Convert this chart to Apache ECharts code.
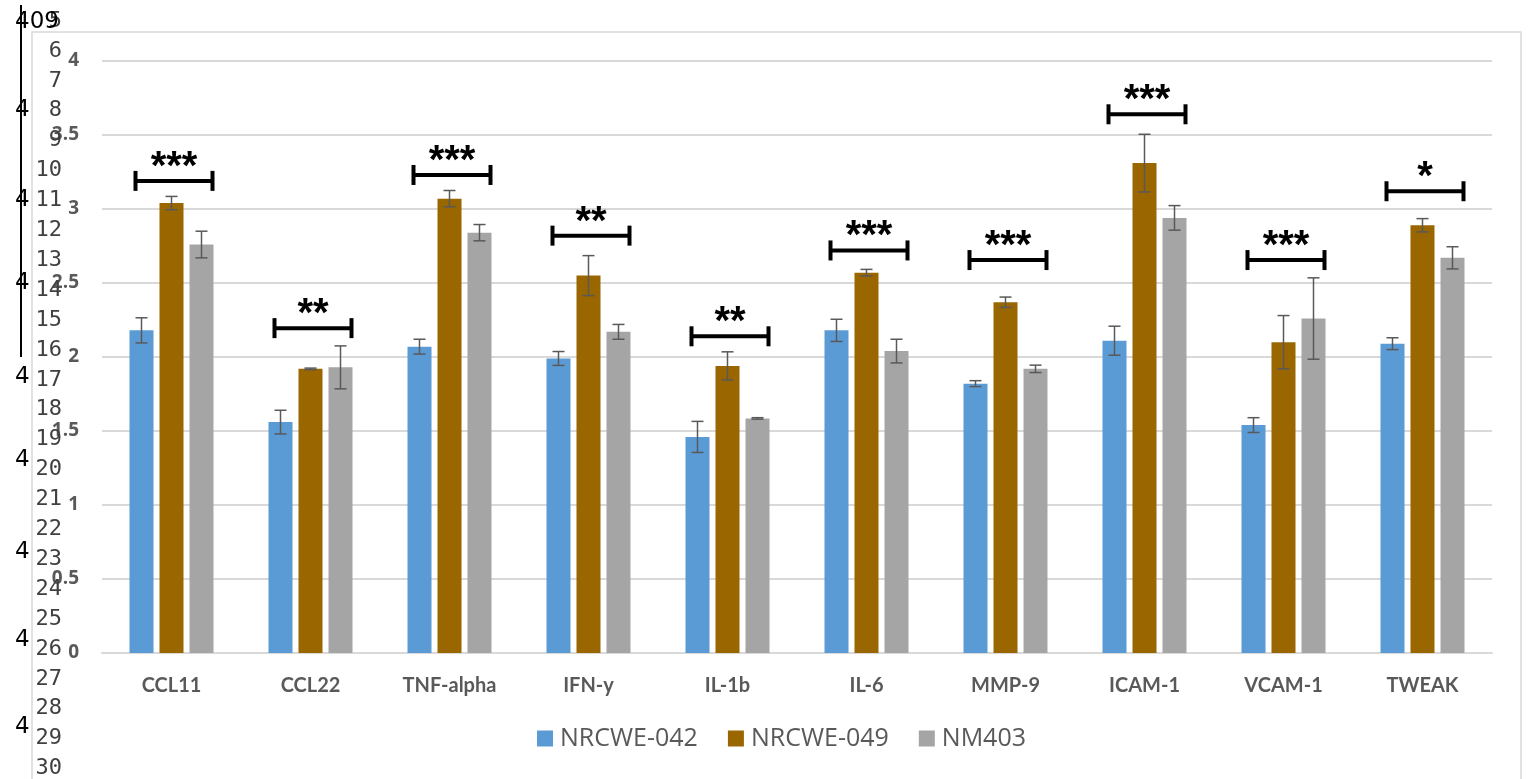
<!DOCTYPE html>
<html>
<head>
<meta charset="utf-8">
<script src="https://cdn.jsdelivr.net/npm/echarts@6/dist/echarts.min.js"></script>
<style>
html,body{margin:0;padding:0;background:#fff;}
#chart{width:1528px;height:779px;}
</style>
</head>
<body>
<div id="chart"></div>
<script>
const categories = ['CCL11','CCL22','TNF-alpha','IFN-y','IL-1b','IL-6','MMP-9','ICAM-1','VCAM-1','TWEAK'];
const seriesNames = ['NRCWE-042','NRCWE-049','NM403'];
const nrcwe042 = [2.18,1.56,2.07,1.99,1.46,2.18,1.82,2.11,1.54,2.09];
const nrcwe042Err = [0.085,0.08,0.05,0.047,0.105,0.075,0.02,0.098,0.05,0.04];
const nrcwe049 = [3.04,1.92,3.07,2.55,1.94,2.57,2.37,3.31,2.10,2.89];
const nrcwe049Err = [0.045,0.005,0.055,0.135,0.095,0.022,0.035,0.195,0.18,0.045];
const nm403 = [2.76,1.93,2.84,2.17,1.585,2.04,1.92,2.94,2.26,2.67];
const nm403Err = [0.09,0.145,0.055,0.05,0.005,0.08,0.025,0.083,0.275,0.075];
const sigLevel = [3.19,2.195,3.23,2.82,2.14,2.72,2.655,3.64,2.655,3.12];
const sigStars = ['***','**','***','**','**','***','***','***','***','*'];
const yMin = 0, yMax = 4, yInterval = 0.5;
const sideNumbers = ['5','6','7','8','9','10','11','12','13','14','15','16','17','18','19','20','21','22','23','24','25','26','27','28','29','30'];
const sideFours = ['409','4','4','4','4','4','4','4','4'];
const sideFourY = [22,110,200,283,377,460,552,640,727];

const colors = ['#5B9BD5','#996600','#A5A5A5'];
const chart = echarts.init(document.getElementById('chart'), null, {renderer:'canvas'});

function errorSeries(values, errs, offset) {
  return {
    type:'custom', silent:true, z:10,
    renderItem:function(params, api){
      const i = api.value(0), v = api.value(1), e = api.value(2);
      const top = api.coord([i, v + e]);
      const bot = api.coord([i, v - e]);
      const x = top[0] + offset;
      const st = {stroke:'#595959', lineWidth:1.5};
      return {type:'group', children:[
        {type:'line', shape:{x1:x,y1:top[1],x2:x,y2:bot[1]}, style:st},
        {type:'line', shape:{x1:x-6,y1:top[1],x2:x+6,y2:top[1]}, style:st},
        {type:'line', shape:{x1:x-6,y1:bot[1],x2:x+6,y2:bot[1]}, style:st}
      ]};
    },
    encode:{x:0,y:1},
    data: values.map((v,i)=>[i,v,errs[i]])
  };
}

const bracketSeries = {
  type:'custom', silent:true, z:12,
  renderItem:function(params, api){
    const p = api.coord([api.value(0), api.value(1)]);
    const xl = p[0] - 36, xr = p[0] + 41, y = p[1];
    const st = {stroke:'#000', lineWidth:4};
    return {type:'group', children:[
      {type:'line', shape:{x1:xl,y1:y,x2:xr,y2:y}, style:st},
      {type:'line', shape:{x1:xl,y1:y-10,x2:xl,y2:y+10}, style:st},
      {type:'line', shape:{x1:xr,y1:y-10,x2:xr,y2:y+10}, style:st},
      {type:'text', style:{text:sigStars[params.dataIndex], x:(xl+xr)/2, y:y-13,
        align:'center', verticalAlign:'middle',
        fontFamily:'Liberation Sans', fontWeight:'bold', fontSize:40, fill:'#000'}}
    ]};
  },
  encode:{x:0,y:1},
  data: sigLevel.map((v,i)=>[i,v])
};

const graphics = [
  {type:'rect', z:-10, shape:{x:32,y:32,width:1489,height:770}, style:{fill:'none', stroke:'#D9D9D9', lineWidth:1.5}},
  {type:'line', z:50, shape:{x1:21,y1:5,x2:21,y2:357}, style:{stroke:'#000', lineWidth:2}}
];
sideNumbers.forEach((t,k)=>{
  graphics.push({type:'text', z:50, style:{text:t, x:62, y:21 + k*29.9, align:'right', verticalAlign:'middle',
    fontFamily:'DejaVu Sans Mono', fontSize:22, fill:'#404040'}});
});
sideFours.forEach((t,k)=>{
  graphics.push({type:'text', z:51, style:{text:t, x:15, y:sideFourY[k], align:'left', verticalAlign:'middle',
    fontFamily:'DejaVu Sans', fontSize:23, fill:'#000'}});
});

const xRich = {a:{fontSize:20, fontWeight:'bold', color:'#595959', fontFamily:'Lato'}};
const yRich = {a:{fontSize:19, fontWeight:'bold', color:'#595959', fontFamily:'Open Sans'}};

chart.setOption({
  animation:false,
  backgroundColor:'#fff',
  color:colors,
  grid:{left:102, right:36, top:61, bottom:126, containLabel:false},
  legend:{
    data:seriesNames, top:726, left:537, padding:0, itemWidth:16, itemHeight:16, itemGap:30,
    icon:'rect',
    textStyle:{fontSize:25, color:'#595959', fontFamily:'Open Sans', padding:[0,0,0,2]}
  },
  xAxis:{
    type:'category', data:categories,
    axisTick:{show:false},
    axisLine:{lineStyle:{color:'#D9D9D9', width:2}},
    axisLabel:{interval:0, margin:23, fontWeight:'bold', fontSize:20, fontFamily:'Lato', color:'#595959',
      formatter:function(v){return '{a|' + v + '}';}, rich:xRich}
  },
  yAxis:{
    type:'value', min:yMin, max:yMax, interval:yInterval,
    axisLine:{show:false}, axisTick:{show:false},
    splitLine:{lineStyle:{color:'#D9D9D9', width:2}},
    axisLabel:{margin:23, fontWeight:'bold', fontSize:19, fontFamily:'Open Sans', color:'#595959',
      formatter:function(v){return '{a|' + v + '}';}, rich:yRich}
  },
  graphic:graphics,
  series:[
    {name:seriesNames[0], type:'bar', data:nrcwe042, barWidth:24, barGap:'25%', itemStyle:{color:colors[0]}},
    {name:seriesNames[1], type:'bar', data:nrcwe049, barWidth:24, barGap:'25%', itemStyle:{color:colors[1]}},
    {name:seriesNames[2], type:'bar', data:nm403, barWidth:24, barGap:'25%', itemStyle:{color:colors[2]}},
    errorSeries(nrcwe042, nrcwe042Err, -30),
    errorSeries(nrcwe049, nrcwe049Err, 0),
    errorSeries(nm403, nm403Err, 30),
    bracketSeries
  ]
});
</script>
</body>
</html>
